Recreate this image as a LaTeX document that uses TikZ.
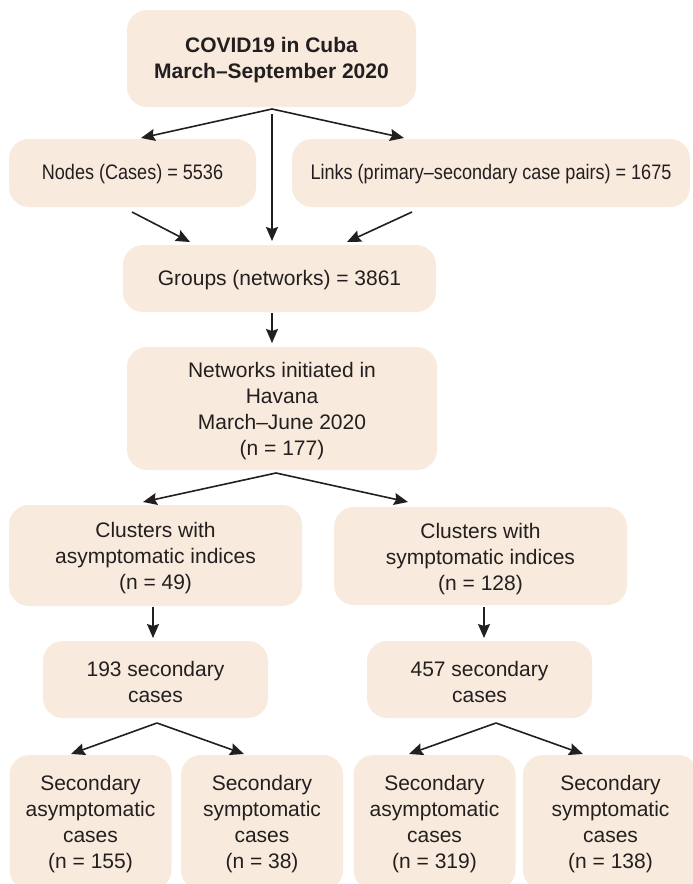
\documentclass[tikz,border=0pt]{standalone}
\usepackage{fontspec}
\setmainfont{Liberation Sans}
\newfontfamily\narrowfont{Liberation Sans}[FakeStretch=0.86]
\usetikzlibrary{arrows.meta}
\definecolor{boxfill}{RGB}{248,234,220}
\definecolor{txt}{RGB}{35,31,32}
\tikzset{
  box/.style={rounded corners=20pt, fill=boxfill, inner sep=0pt, anchor=center},
  lbl/.style={align=center, inner sep=0pt, font=\fontsize{21}{26}\selectfont, text=txt, anchor=center},
  arr/.style={draw=txt, line width=1.6pt, -{Stealth[length=14pt,width=12pt,inset=2pt]}}
}
\begin{document}
\begin{tikzpicture}[x=1pt,y=-1pt]
\useasboundingbox (0,0) rectangle (693,884);
\clip (0,0) rectangle (693,884);
% boxes
\node[box, minimum width=289pt, minimum height=97pt] (top) at (271.5,58.5) {};
\node[box, minimum width=247pt, minimum height=68pt] (nodes) at (132.5,173) {};
\node[box, minimum width=398pt, minimum height=68pt] (links) at (491,173) {};
\node[box, minimum width=313pt, minimum height=67pt] (groups) at (279.5,278.5) {};
\node[box, minimum width=310pt, minimum height=123pt] (havana) at (282,408.5) {};
\node[box, minimum width=293pt, minimum height=101pt] (casym) at (155.5,555.5) {};
\node[box, minimum width=293pt, minimum height=98pt] (csym) at (480.5,556) {};
\node[box, minimum width=225pt, minimum height=77pt] (sa) at (155.5,679.5) {};
\node[box, minimum width=225pt, minimum height=77pt] (ss) at (479.5,679.5) {};
\node[box, minimum width=162pt, minimum height=135pt] (b1) at (90.5,822.5) {};
\node[box, minimum width=162pt, minimum height=135pt] (b2) at (262,822.5) {};
\node[box, minimum width=162pt, minimum height=135pt] (b3) at (434.5,822.5) {};
\node[box, minimum width=175pt, minimum height=135pt] (b4) at (610.5,822.5) {};
% texts
\node[lbl, font=\fontsize{21}{26}\bfseries\selectfont] (toptxt) at ([yshift=-2pt]top.center) {COVID19 in Cuba\\March–September 2020};
\node[lbl, font=\fontsize{21}{26}\narrowfont] (nodestxt) at ([yshift=-1pt]nodes.center) {Nodes (Cases) = 5536};
\node[lbl, font=\fontsize{21}{26}\narrowfont] (linkstxt) at ([yshift=-1pt]links.center) {Links (primary–secondary case pairs) = 1675};
\node[lbl] (groupstxt) at ([yshift=-2pt]groups.center) {Groups (networks) = 3861};
\node[lbl] (havanatxt) at ([yshift=-3pt]havana.center) {Networks initiated in\\Havana\\March–June 2020\\(n = 177)};
\node[lbl] (casymtxt) at ([yshift=-3pt]casym.center) {Clusters with\\asymptomatic indices\\(n = 49)};
\node[lbl] (csymtxt) at ([yshift=-3pt]csym.center) {Clusters with\\symptomatic indices\\(n = 128)};
\node[lbl] (satxt) at ([yshift=-2pt]sa.center) {193 secondary\\cases};
\node[lbl] (sstxt) at ([yshift=-2pt]ss.center) {457 secondary\\cases};
\node[lbl] (b1txt) at ([yshift=-2pt]b1.center) {Secondary\\asymptomatic\\cases\\(n = 155)};
\node[lbl] (b2txt) at ([yshift=-2pt]b2.center) {Secondary\\symptomatic\\cases\\(n = 38)};
\node[lbl] (b3txt) at ([yshift=-2pt]b3.center) {Secondary\\asymptomatic\\cases\\(n = 319)};
\node[lbl] (b4txt) at ([yshift=-2pt]b4.center) {Secondary\\symptomatic\\cases\\(n = 138)};
% coordinates
\coordinate (ap1) at (272,109);
\coordinate (t1) at (141,138);
\coordinate (t2) at (404,138);
\coordinate (v1) at (272,114);
\coordinate (v1e) at (272,241);
\coordinate (n1) at (132,212);
\coordinate (n1e) at (190,242);
\coordinate (l1) at (412,212);
\coordinate (l1e) at (347,242);
\coordinate (g1) at (272,313);
\coordinate (g1e) at (272,343);
\coordinate (ap2) at (276,473);
\coordinate (t3) at (143,502);
\coordinate (t4) at (408,502);
\coordinate (c1) at (153,607);
\coordinate (c1e) at (153,638);
\coordinate (c2) at (484,607);
\coordinate (c2e) at (484,638);
\coordinate (ap3) at (157,723);
\coordinate (t5) at (71,754);
\coordinate (t6) at (244,754);
\coordinate (ap4) at (496,723);
\coordinate (t7) at (409,754);
\coordinate (t8) at (583,754);
% connectors
\draw[arr] (ap1) -- (t1);
\draw[arr] (ap1) -- (t2);
\draw[arr] (v1) -- (v1e);
\draw[arr] (n1) -- (n1e);
\draw[arr] (l1) -- (l1e);
\draw[arr] (g1) -- (g1e);
\draw[arr] (ap2) -- (t3);
\draw[arr] (ap2) -- (t4);
\draw[arr] (c1) -- (c1e);
\draw[arr] (c2) -- (c2e);
\draw[arr] (ap3) -- (t5);
\draw[arr] (ap3) -- (t6);
\draw[arr] (ap4) -- (t7);
\draw[arr] (ap4) -- (t8);
\end{tikzpicture}
\end{document}
